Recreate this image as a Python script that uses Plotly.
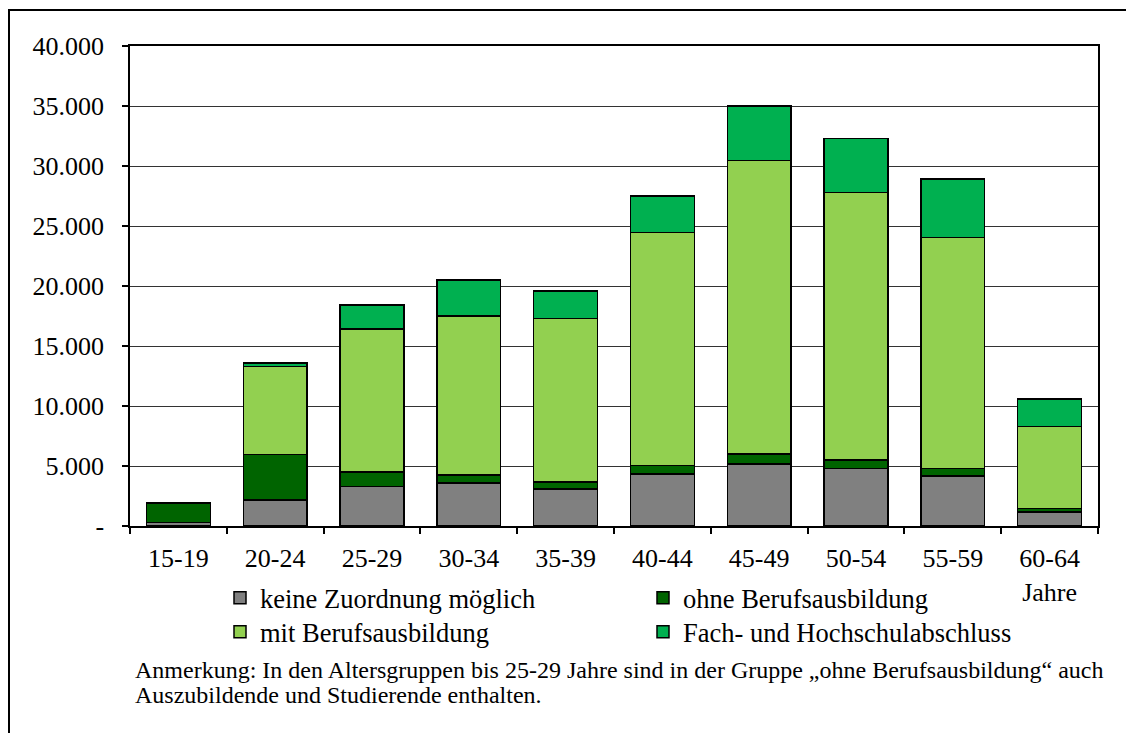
import plotly.graph_objects as go

AGE_GROUPS = ["15-19", "20-24", "25-29", "30-34", "35-39",
              "40-44", "45-49", "50-54", "55-59", "60-64"]
AGE_LABELS = AGE_GROUPS[:-1] + ["60-64<br>Jahre"]

KEINE_ZUORDNUNG = [280, 2170, 3300, 3580, 3100, 4330, 5170, 4800, 4170, 1170]
OHNE_AUSBILDUNG = [1610, 3770, 1200, 670, 570, 730, 830, 700, 630, 270]
MIT_AUSBILDUNG = [40, 7360, 11900, 13250, 13630, 19390, 24450, 22300, 19250, 6860]
FACH_HOCHSCHULE = [20, 300, 2000, 3000, 2300, 3050, 4550, 4500, 4850, 2300]

Y_TICKS = [0, 5000, 10000, 15000, 20000, 25000, 30000, 35000, 40000]
Y_TICK_TEXT = ["-", "5.000", "10.000", "15.000", "20.000",
               "25.000", "30.000", "35.000", "40.000"]

NOTE_LINES = [
    "Anmerkung: In den Altersgruppen bis 25-29 Jahre sind in der Gruppe "
    "„ohne Berufsausbildung“ auch",
    "Auszubildende und Studierende enthalten.",
]

FONT = "Liberation Serif, Times New Roman, serif"

series = [
    ("keine Zuordnung möglich", KEINE_ZUORDNUNG, "#808080", "legend"),
    ("ohne Berufsausbildung", OHNE_AUSBILDUNG, "#006400", "legend"),
    ("mit Berufsausbildung", MIT_AUSBILDUNG, "#92D050", "legend2"),
    ("Fach- und Hochschulabschluss", FACH_HOCHSCHULE, "#00B050", "legend2"),
]

fig = go.Figure()
for name, values, color, legend in series:
    fig.add_trace(
        go.Bar(
            x=AGE_GROUPS,
            y=values,
            name=name,
            legend=legend,
            marker=dict(color=color, line=dict(color="black", width=1.5)),
        )
    )

# page body adds an 8px offset; target pixel positions below are screen coords
OFF = 8
W, H = 1134 - OFF, 733 - OFF
L, R, T, B = 130, 1098, 46, 526


def px_x(p):
    return (p - L) / (R - L)


def px_y(p):
    return (B - p) / (B - T)


def make_legend(y_px):
    return go.layout.Legend(
        orientation="h",
        xref="paper",
        yref="paper",
        x=px_x(220),
        y=px_y(y_px),
        xanchor="left",
        yanchor="middle",
        entrywidth=378,
        entrywidthmode="pixels",
        font=dict(family=FONT, size=26.5, color="black"),
        bgcolor="rgba(0,0,0,0)",
        itemclick=False,
        traceorder="normal",
    )


fig.update_layout(
    width=W,
    height=H,
    margin=dict(l=L - OFF, r=W - (R - OFF), t=T - OFF, b=H - (B - OFF)),
    paper_bgcolor="white",
    plot_bgcolor="white",
    barmode="stack",
    bargap=0.34,
    font=dict(family=FONT, size=26, color="black"),
    showlegend=True,
    legend=make_legend(598),
    legend2=make_legend(632),
    xaxis=dict(
        tickmode="array",
        tickvals=AGE_GROUPS,
        ticktext=AGE_LABELS,
        tickson="boundaries",
        ticks="outside",
        ticklen=6,
        tickwidth=1.5,
        tickcolor="black",
        ticklabelstandoff=8,
        showline=True,
        linecolor="black",
        linewidth=1.5,
        mirror=True,
        showgrid=False,
        tickfont=dict(family=FONT, size=26, color="black"),
        fixedrange=True,
    ),
    yaxis=dict(
        range=[0, 40000],
        tickmode="array",
        tickvals=Y_TICKS,
        ticktext=Y_TICK_TEXT,
        ticks="outside",
        ticklen=6,
        tickwidth=1.5,
        tickcolor="black",
        ticklabelstandoff=13,
        showline=True,
        linecolor="black",
        linewidth=1.5,
        mirror=True,
        showgrid=True,
        gridcolor="#333333",
        gridwidth=1,
        zeroline=False,
        tickfont=dict(family=FONT, size=26, color="black"),
        fixedrange=True,
    ),
)

# outer frame of the chart
fig.add_shape(
    type="rect",
    xref="paper",
    yref="paper",
    x0=px_x(9),
    x1=px_x(1145),
    y0=px_y(745),
    y1=px_y(10),
    line=dict(color="black", width=2),
    fillcolor="rgba(0,0,0,0)",
    layer="below",
)

for i, line in enumerate(NOTE_LINES):
    fig.add_annotation(
        xref="paper",
        yref="paper",
        x=px_x(133),
        y=px_y(670 + 25 * i),
        xanchor="left",
        yanchor="middle",
        align="left",
        showarrow=False,
        text=line,
        font=dict(family=FONT, size=24, color="black"),
    )

fig.write_html("out.html")
